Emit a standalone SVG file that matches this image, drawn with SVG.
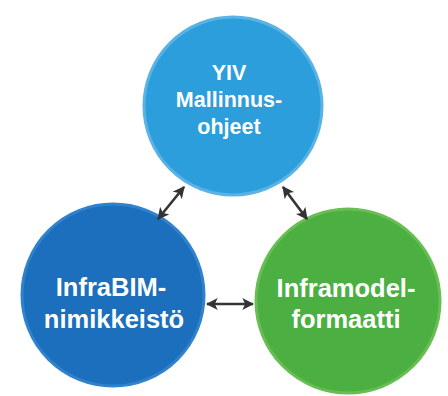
<svg xmlns="http://www.w3.org/2000/svg" width="448" height="396" viewBox="0 0 448 396">
  <defs>
    <marker id="ah" viewBox="0 0 10 10" refX="9" refY="5" markerWidth="4.6" markerHeight="4.6" orient="auto-start-reverse" markerUnits="strokeWidth">
      <path d="M0,0 L10,5 L0,10 L2.5,5 Z" fill="#333333"/>
    </marker>
  </defs>
  <style>
    .lbl { font-family: "Liberation Sans", Arial, Helvetica, sans-serif; font-weight: bold; fill: #ffffff; text-anchor: middle; }
    .conn { stroke: #353535; stroke-width: 2.6; fill: none; marker-start: url(#ah); marker-end: url(#ah); }
  </style>
  <rect width="448" height="396" fill="#ffffff"/>
  <g id="node-yiv">
    <circle cx="233" cy="106" r="89" fill="#2c9edb" stroke="#5ab3e4" stroke-width="3"/>
    <text class="lbl" x="229" y="80" font-size="21.5">YIV</text>
    <text class="lbl" x="229" y="107" font-size="21.5">Mallinnus-</text>
    <text class="lbl" x="229" y="134" font-size="21.5">ohjeet</text>
  </g>
  <g id="node-infrabim">
    <circle cx="113" cy="295" r="91" fill="#1b6fbd" stroke="#2f82cb" stroke-width="3"/>
    <text class="lbl" x="111" y="296" font-size="25.5">InfraBIM-</text>
    <text class="lbl" x="114" y="328" font-size="25.5">nimikkeistö</text>
  </g>
  <g id="node-inframodel">
    <circle cx="348" cy="301" r="92" fill="#4caf41" stroke="#68be52" stroke-width="3"/>
    <text class="lbl" x="346" y="297" font-size="25.5">Inframodel-</text>
    <text class="lbl" x="346" y="328" font-size="25.5">formaatti</text>
  </g>
  <g id="connectors">
    <line class="conn" x1="184" y1="187" x2="158" y2="219"/>
    <line class="conn" x1="283" y1="187" x2="307" y2="219"/>
    <line class="conn" x1="207" y1="304" x2="253" y2="304"/>
  </g>
</svg>
